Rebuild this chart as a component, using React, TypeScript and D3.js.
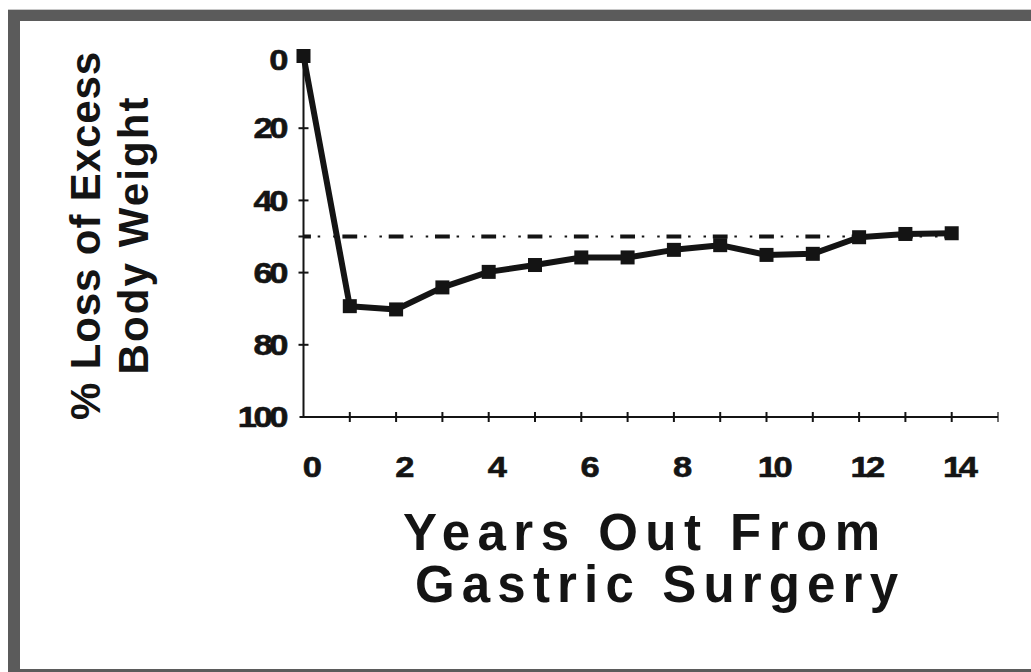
import React from "react";
import * as d3 from "d3";

const years = [0, 1, 2, 3, 4, 5, 6, 7, 8, 9, 10, 11, 12, 13, 14];
const lossPct = [0, 69.3, 70.2, 64.1, 59.8, 57.9, 55.8, 55.8, 53.7, 52.4, 55.1, 54.8, 50.2, 49.3, 49.1];
const referenceLevel = 50;
const xTickLabels = [0, 2, 4, 6, 8, 10, 12, 14];
const xMinorTicks = [1, 2, 3, 4, 5, 6, 7, 8, 9, 10, 11, 12, 13, 14, 15];
const yTickLabels = [0, 20, 40, 60, 80, 100];
const yTitleLines = ["% Loss of Excess", "Body Weight"];
const xTitleLines = ["Years Out From", "Gastric Surgery"];

export default function App() {
  const W = 1031;
  const H = 672;
  const x = d3.scaleLinear().domain([0, 15]).range([303.5, 998]);
  const y = d3.scaleLinear().domain([0, 100]).range([56, 417]);
  const ink = "#141414";
  const step = x(1) - x(0);

  const line = d3
    .line<number>()
    .x((_, i) => x(years[i]))
    .y((d) => y(d));

  const dash = step * 0.32;
  const dot = 2.5;
  const font = "Liberation Sans, Arial, sans-serif";

  return (
    <svg
      width={W}
      height={H}
      style={{ position: "absolute", left: 0, top: 0, background: "#fff" }}
    >
      {/* frame */}
      <rect x={8} y={9} width={W - 8} height={1} fill="#c8c8c8" />
      <rect x={8} y={10} width={W - 8} height={11} fill="#5b5b5b" />
      <rect x={8} y={10} width={12} height={H - 10} fill="#5b5b5b" />
      <rect x={8} y={669} width={W - 8} height={3} fill="#5b5b5b" />

      {/* reference line: dashes + dots */}
      <line
        x1={x(0)}
        x2={x(14)}
        y1={y(referenceLevel)}
        y2={y(referenceLevel)}
        stroke={ink}
        strokeWidth={4}
        strokeDasharray={`${dash},${step - dash}`}
        strokeDashoffset={dash / 2}
      />
      <line
        x1={x(0) + step / 3 - dot / 2}
        x2={x(14)}
        y1={y(referenceLevel)}
        y2={y(referenceLevel)}
        stroke={ink}
        strokeWidth={2}
        strokeDasharray={`${dot},${step / 3 - dot},${dot},${(2 * step) / 3 - dot}`}
      />

      {/* y axis */}
      <line x1={x(0)} x2={x(0)} y1={y(0) - 4} y2={y(100)} stroke={ink} strokeWidth={2} />
      {yTickLabels.slice(1, 5).concat([referenceLevel]).map((v) => (
        <line key={"yt" + v} x1={x(0) - 5} x2={x(0) + 5} y1={y(v)} y2={y(v)} stroke={ink} strokeWidth={2} />
      ))}
      {yTickLabels.map((v) => (
        <text
          key={"yl" + v}
          transform={`translate(285,${v === 0 ? y(v) + 4 : y(v)}) scale(1.15,1)`}
          textAnchor="end"
          dominantBaseline="central"
          fontFamily={font}
          fontWeight="bold"
          fontSize={30}
          letterSpacing={-3}
          fill={ink}
          stroke={ink}
          strokeWidth={0.6}
        >
          {v}
        </text>
      ))}

      {/* x axis */}
      <line x1={x(0) - 4} x2={x(15)} y1={y(100)} y2={y(100)} stroke={ink} strokeWidth={2} />
      {xMinorTicks.map((v) => (
        <line
          key={"xt" + v}
          x1={x(v)}
          x2={x(v)}
          y1={y(100) - 5}
          y2={y(100) + 5}
          stroke={ink}
          strokeWidth={v === 15 ? 1.2 : 2}
        />
      ))}
      {xTickLabels.map((v) => (
        <text
          key={"xl" + v}
          transform={`translate(${x(v) + 7},467) scale(1.15,1)`}
          textAnchor="middle"
          dominantBaseline="central"
          fontFamily={font}
          fontWeight="bold"
          fontSize={30}
          letterSpacing={-3}
          fill={ink}
          stroke={ink}
          strokeWidth={0.6}
        >
          {v}
        </text>
      ))}

      {/* data line */}
      <path d={line(lossPct) || ""} fill="none" stroke={ink} strokeWidth={6} strokeLinejoin="round" />
      {lossPct.map((v, i) => (
        <rect
          key={"m" + i}
          x={x(years[i]) - 7}
          y={y(v) - 7}
          width={14}
          height={14}
          fill={ink}
        />
      ))}

      {/* y title */}
      {yTitleLines.map((t, i) => (
        <text
          key={"ytt" + i}
          transform={`translate(${100 + i * 48},236) rotate(-90)`}
          textAnchor="middle"
          fontFamily={font}
          fontWeight="bold"
          fontSize={42}
          textLength={i === 0 ? 368 : 277}
          lengthAdjust="spacing"
          fill={ink}
        >
          {t}
        </text>
      ))}

      {/* x title */}
      {xTitleLines.map((t, i) => (
        <text
          key={"xtt" + i}
          x={i === 0 ? 403 : 415}
          y={i === 0 ? 550 : 602}
          fontFamily={font}
          fontWeight="bold"
          fontSize={51}
          textLength={i === 0 ? 477 : 483}
          lengthAdjust="spacing"
          fill={ink}
        >
          {t}
        </text>
      ))}
    </svg>
  );
}
